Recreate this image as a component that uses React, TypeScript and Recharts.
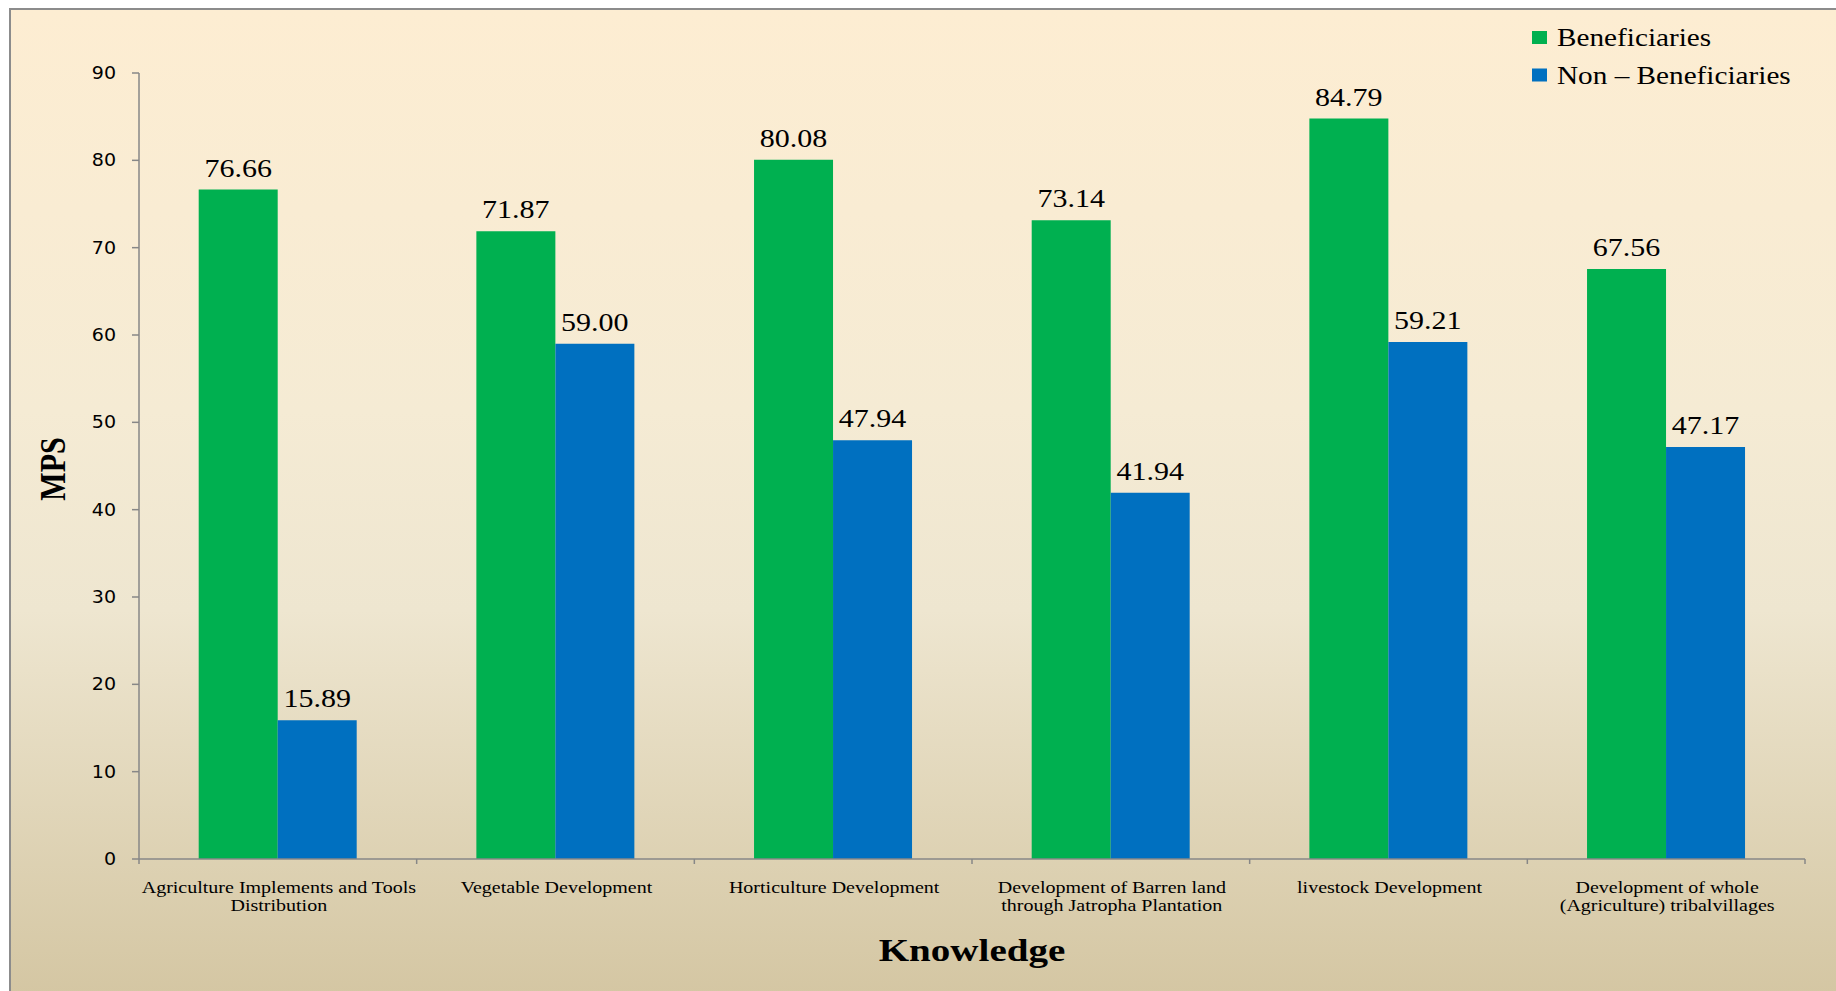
import React from 'react';
import { BarChart, Bar, XAxis, YAxis, Legend, LabelList, Label } from 'recharts';

const categories = [
  'Agriculture Implements and Tools Distribution',
  'Vegetable Development',
  'Horticulture Development',
  'Development of Barren land through Jatropha Plantation',
  'livestock Development',
  'Development of whole (Agriculture) tribalvillages',
];
const tickLines = [
  ['Agriculture Implements and Tools', 'Distribution'],
  ['Vegetable Development'],
  ['Horticulture Development'],
  ['Development of Barren land', 'through Jatropha Plantation'],
  ['livestock Development'],
  ['Development of whole', '(Agriculture) tribalvillages'],
];
const beneficiaries = [76.66, 71.87, 80.08, 73.14, 84.79, 67.56];
const nonBeneficiaries = [15.89, 59.0, 47.94, 41.94, 59.21, 47.17];
const yTicks = [0, 10, 20, 30, 40, 50, 60, 70, 80, 90];
const categoryEdges = [0, 1, 2, 3, 4, 5, 6];

const data = categories.map((name, i) => ({
  name,
  pos: i + 0.5,
  b: beneficiaries[i],
  n: nonBeneficiaries[i],
}));

const SERIF = '"Liberation Serif", "Times New Roman", serif';
const SANS = '"DejaVu Sans", Verdana, sans-serif';
const AXIS = '#878787';

type STProps = {
  x: number;
  y: number;
  anchor?: 'start' | 'middle' | 'end';
  size: number;
  weight?: string;
  family?: string;
  sx?: number;
  transformExtra?: string;
  children: React.ReactNode;
};

function SText({ x, y, anchor = 'middle', size, weight = 'normal', family = SERIF, sx = 1.2, transformExtra = '', children }: STProps) {
  return (
    <text
      transform={`translate(${x},${y}) scale(${sx},1)${transformExtra}`}
      x={0}
      y={0}
      textAnchor={anchor}
      fontSize={size}
      fontWeight={weight}
      fontFamily={family}
      fill="#000"
    >
      {children}
    </text>
  );
}

const YTick = (p: any) => (
  <SText x={p.x} y={p.y + 6} anchor="end" size={17} family={SANS} sx={1.12}>
    {p.payload.value}
  </SText>
);

const CatTick = (p: any) => {
  const idx = typeof p.index === 'number' ? p.index : categories.indexOf(p.payload.value);
  const lines = tickLines[idx] || [String(p.payload.value)];
  return (
    <g>
      {lines.map((l, i) => (
        <SText key={i} x={p.x + 1} y={p.y + 33 + i * 18} size={16} sx={1.25}>
          {l}
        </SText>
      ))}
    </g>
  );
};

const EmptyTick = () => <g />;

const ValueLabel = (p: any) => (
  <SText x={p.x + p.width / 2} y={p.y - 13} size={25}>
    {Number(p.value).toFixed(2)}
  </SText>
);

const LegendContent = (p: any) => {
  const payload = p.payload || [];
  return (
    <svg width={320} height={70} style={{ overflow: 'visible', display: 'block' }}>
      {payload.map((e: any, i: number) => (
        <g key={i}>
          <rect x={0} y={i * 37.5} width={15} height={13} fill={e.color} />
          <SText x={25} y={i * 37.5 + 15} anchor="start" size={25} sx={1.17}>
            {e.value}
          </SText>
        </g>
      ))}
    </svg>
  );
};

export default function App() {
  return (
    <div style={{ position: 'absolute', left: 0, top: 0, width: 1836, height: 991, background: '#fff', overflow: 'hidden' }}>
      <div
        style={{
          position: 'absolute',
          left: 9,
          top: 8,
          width: 1840,
          height: 1000,
          borderTop: '2px solid #8c8c8c',
          borderLeft: '2px solid #8c8c8c',
          background: 'linear-gradient(to bottom, #FDEDD2 0%, #F5EBD4 40%, #EEE6D0 60%, #D3C5A1 100%)',
        }}
      />
      <div style={{ position: 'absolute', left: 0, top: 0 }}>
        <BarChart
          width={1836}
          height={991}
          data={data}
          margin={{ top: 73, right: 31, bottom: 40, left: 20 }}
          barCategoryGap="21.5%"
          barGap={0}
        >
          <XAxis
            xAxisId={0}
            dataKey="pos"
            type="number"
            domain={[0, 6]}
            ticks={categoryEdges}
            allowDataOverflow
            height={1}
            tick={EmptyTick}
            tickSize={5}
            stroke={AXIS}
            strokeWidth={1.5}
          />
          <XAxis
            xAxisId="cat"
            dataKey="name"
            height={91}
            axisLine={false}
            tickLine={false}
            tickSize={0}
            tickMargin={0}
            interval={0}
            tick={CatTick}
          >
            <Label
              content={(p: any) => {
                const vb = p.viewBox || { x: 139, y: 860, width: 1666 };
                return (
                  <SText x={vb.x + vb.width / 2} y={vb.y + 101} size={32} weight="bold" sx={1.22}>
                    Knowledge
                  </SText>
                );
              }}
            />
          </XAxis>
          <YAxis
            domain={[0, 90]}
            ticks={yTicks}
            interval={0}
            width={119}
            stroke={AXIS}
            strokeWidth={1.5}
            tickSize={7}
            tickMargin={16}
            tick={YTick}
          >
            <Label
              content={(p: any) => {
                const vb = p.viewBox || { x: 20, y: 73, height: 786 };
                return (
                  <SText
                    x={vb.x + 45}
                    y={vb.y + vb.height / 2 + 3}
                    size={30}
                    weight="bold"
                    sx={1.2}
                    transformExtra=" rotate(-90)"
                  >
                    MPS
                  </SText>
                );
              }}
            />
          </YAxis>
          <Legend
            layout="horizontal"
            verticalAlign="middle"
            align="center"
            content={LegendContent}
            wrapperStyle={{ position: 'absolute', left: 1532, top: 31, width: 320, height: 70 }}
          />
          <Bar xAxisId="cat" dataKey="b" name="Beneficiaries" fill="#00B050" isAnimationActive={false}>
            <LabelList dataKey="b" content={ValueLabel} />
          </Bar>
          <Bar xAxisId="cat" dataKey="n" name="Non – Beneficiaries" fill="#0070C0" isAnimationActive={false}>
            <LabelList dataKey="n" content={ValueLabel} />
          </Bar>
        </BarChart>
      </div>
    </div>
  );
}
